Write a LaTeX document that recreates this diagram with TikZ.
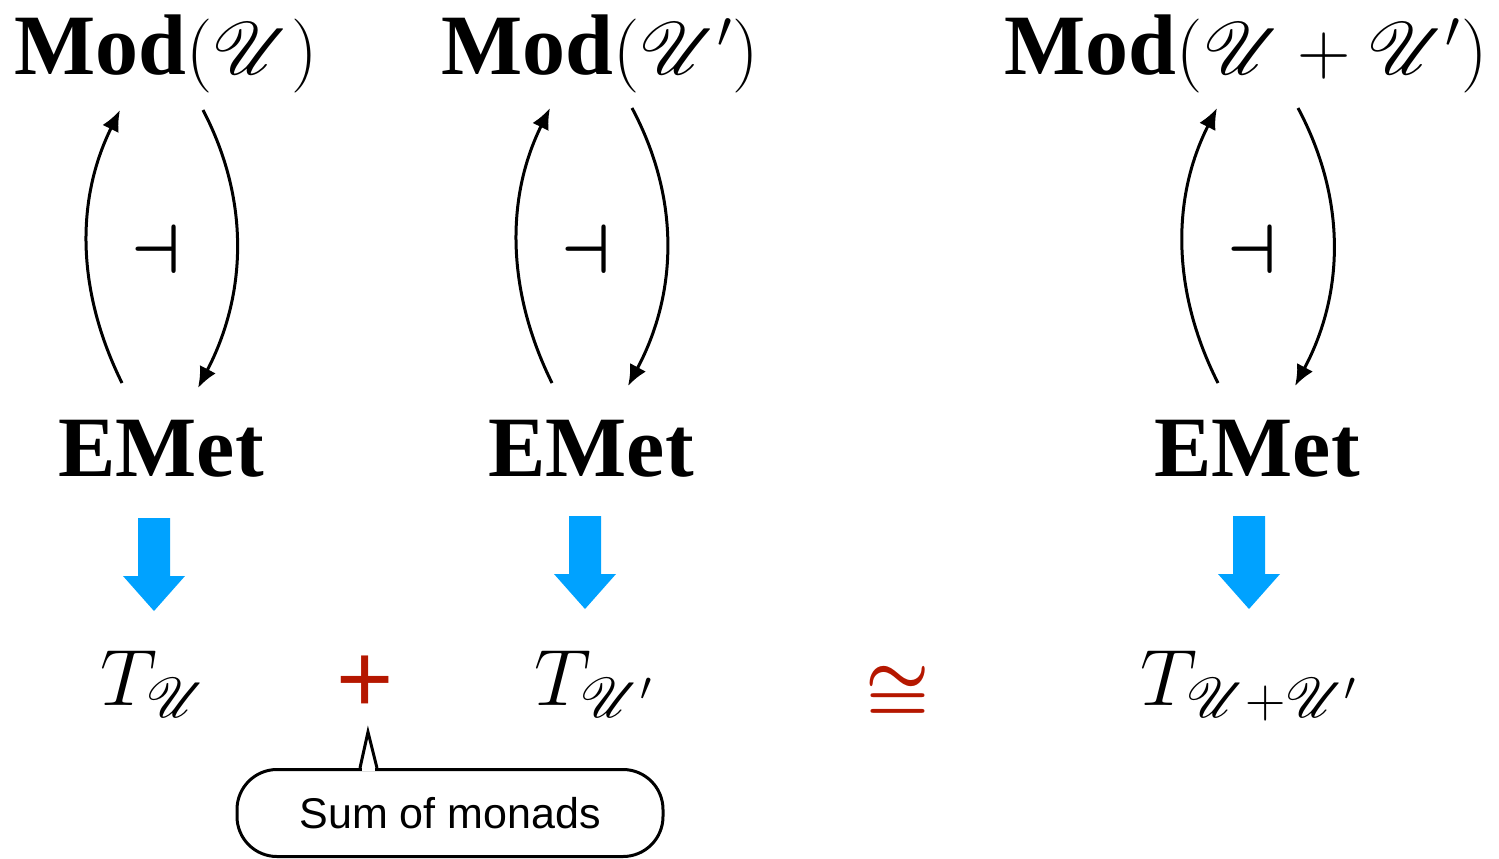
\RequirePackage{fix-cm}
\documentclass[tikz,border=0pt]{standalone}
\usepackage[no-math]{fontspec}
\setmainfont{Liberation Serif}
\newfontfamily\calloutfont{Liberation Sans}
\DeclareFontFamily{U}{rsfs}{\skewchar\font127 }
\DeclareFontShape{U}{rsfs}{m}{n}{<-6>rsfs5<6-8>rsfs7<8->rsfs10}{}
\usepackage{mathrsfs}
\usetikzlibrary{arrows.meta,calc}
\definecolor{arrowblue}{HTML}{00A2FF}
\definecolor{relred}{HTML}{B51700}
\newcommand{\modmath}[1]{{\fontsize{37}{44}\selectfont$#1$}}
\tikzset{
  biglabel/.style={anchor=base, inner sep=0pt, font=\fontsize{43}{50}\selectfont},
  tlabel/.style={anchor=base, inner sep=0pt, font=\fontsize{40}{48}\selectfont},
  adj/.style={line width=1.5pt, -{Latex[length=10.5pt,width=9pt]}},
  adjsym/.style={inner sep=0pt, font=\fontsize{35}{40}\selectfont\boldmath},
  plussym/.style={inner sep=0pt, text=relred, font=\calloutfont\fontsize{49}{56}\selectfont},
  congsym/.style={inner sep=0pt, text=relred, font=\fontsize{36}{42}\selectfont\boldmath},
  bubble/.style={draw, line width=1.5pt, rounded corners=20pt, minimum width=213pt,
    minimum height=43.5pt, inner sep=0pt, font=\calloutfont\fontsize{21.5}{26}\selectfont},
  bluearrow/.pic={\fill[arrowblue] (-16,0) -- (16,0) -- (16,58) -- (31,58) -- (0,93)
    -- (-31,58) -- (-16,58) -- cycle;}
}
\begin{document}
\begin{tikzpicture}[x=0.5pt,y=-0.5pt]
\useasboundingbox (0,0) rectangle (1499,858);

% top row
\node[biglabel] (mod1) at (166,74) {\textbf{Mod}\modmath{(\mathscr{U})}};
\node[biglabel] (mod2) at (600,74) {\textbf{Mod}\modmath{(\mathscr{U}')}};
\node[biglabel] (mod3) at (1246,74) {\textbf{Mod}\modmath{(\mathscr{U}+\mathscr{U}')}};

% EMet row
\node[biglabel] (emet1) at (161,476) {\textbf{EMet}};
\node[biglabel] (emet2) at (591,476) {\textbf{EMet}};
\node[biglabel] (emet3) at (1257,476) {\textbf{EMet}};

% adjunctions
\draw[adj] ($(emet1.base)+(-39,-93)$) .. controls +(-45,-91) and +(-45,91) .. ($(mod1.base)+(-46,36)$);
\draw[adj] ($(mod1.base)+(37,36)$) .. controls +(48,92) and +(48,-92) .. ($(emet1.base)+(37,-88)$);
\draw[adj] ($(emet2.base)+(-39,-93)$) .. controls +(-45,-91) and +(-45,91) .. ($(mod2.base)+(-50,34)$);
\draw[adj] ($(mod2.base)+(32,34)$) .. controls +(49,92) and +(49,-92) .. ($(emet2.base)+(37,-90)$);
\draw[adj] ($(emet3.base)+(-39,-93)$) .. controls +(-46,-91) and +(-46,91) .. ($(mod3.base)+(-29,34)$);
\draw[adj] ($(mod3.base)+(52,34)$) .. controls +(49,92) and +(49,-92) .. ($(emet3.base)+(38,-90)$);

\node[adjsym] (adj1) at (156,249) {$\dashv$};
\node[adjsym] (adj2) at (586,249) {$\dashv$};
\node[adjsym] (adj3) at (1252,249) {$\dashv$};

% blue arrows
\pic (b1) at (154,518) {bluearrow};
\pic (b2) at (585,516) {bluearrow};
\pic (b3) at (1249,516) {bluearrow};

% monads row
\node[tlabel] (t1) at (154,705) {$T_{\mathscr{U}}$};
\node[tlabel] (t2) at (594,705) {$T_{\mathscr{U}'}$};
\node[tlabel] (t3) at (1249,705) {$T_{\mathscr{U}+\mathscr{U}'}$};

\node[plussym] (plus) at (365.5,684.5) {+};
\node[congsym] (cong) at (897.5,693.5) {$\cong$};

% callout
\node[bubble] (bubble) at (450,813) {Sum of monads};
\fill[white] ($(bubble.north)+(-88,-3)$) rectangle ($(bubble.north)+(-75,3)$);
\draw[line width=1.5pt] ($(bubble.north)+(-90,0)$) -- ($(bubble.north)+(-82,-36)$) -- ($(bubble.north)+(-73,0)$);
\end{tikzpicture}
\end{document}
